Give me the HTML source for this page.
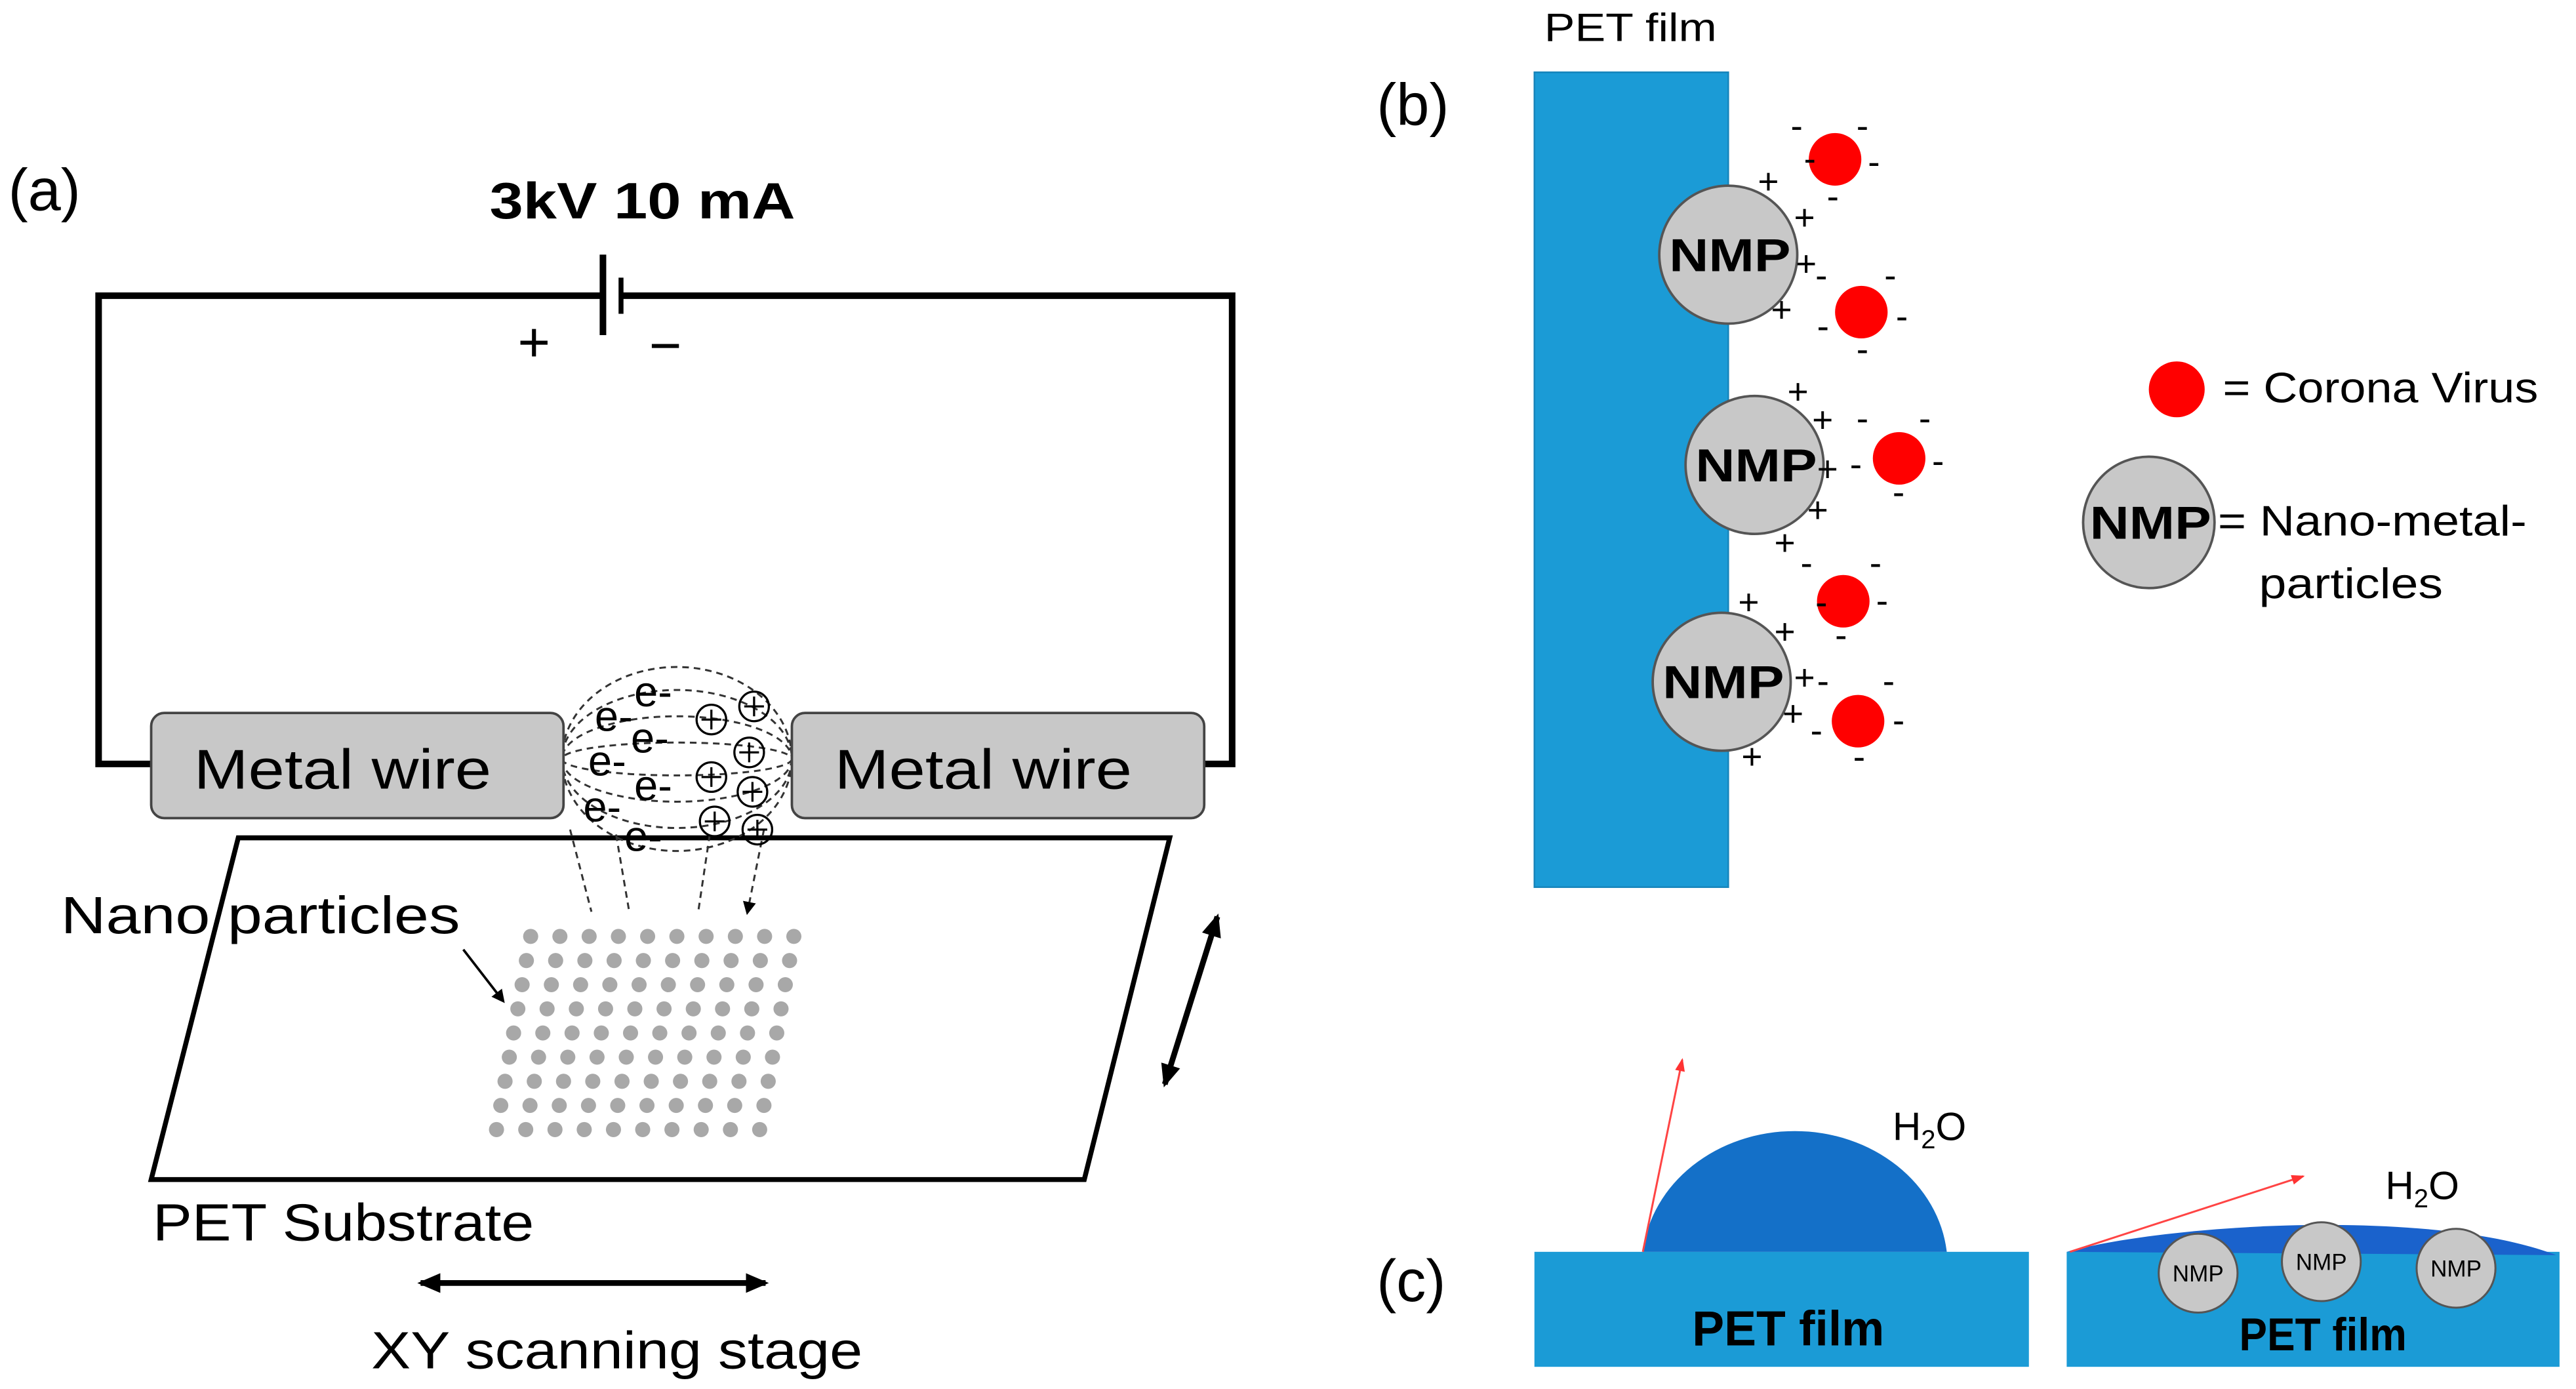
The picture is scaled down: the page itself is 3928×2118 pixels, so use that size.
<!DOCTYPE html>
<html><head><style>html,body{margin:0;padding:0;background:#fff}svg{display:block}text{font-family:"Liberation Sans",sans-serif}</style></head>
<body>
<svg width="3928" height="2118" viewBox="0 0 1568 845.5" xmlns="http://www.w3.org/2000/svg">
<defs>
<marker id="ah" markerWidth="8" markerHeight="8" refX="6" refY="4" orient="auto" markerUnits="userSpaceOnUse"><path d="M0,0 L8,4 L0,8 z" fill="#000"/></marker>
<marker id="ahb" markerWidth="14" markerHeight="12" refX="12" refY="6" orient="auto-start-reverse" markerUnits="userSpaceOnUse"><path d="M0,0 L14,6 L0,12 z" fill="#000"/></marker>
<marker id="ahr" markerWidth="8" markerHeight="6" refX="7" refY="3" orient="auto" markerUnits="userSpaceOnUse"><path d="M0,0 L8,3 L0,6 z" fill="#f33"/></marker>
</defs>
<!-- (a) -->
<text x="5" y="128" font-size="36">(a)</text>
<text x="298" y="133" font-size="31" font-weight="bold" textLength="186" lengthAdjust="spacingAndGlyphs">3kV 10 mA</text>
<path d="M92,465 H60 V180 H367 M377,180 H750 V465 H733" fill="none" stroke="#000" stroke-width="4"/>
<line x1="367" y1="155" x2="367" y2="204" stroke="#000" stroke-width="4"/>
<line x1="378" y1="169" x2="378" y2="191" stroke="#000" stroke-width="3"/>
<text x="325" y="220" font-size="34" text-anchor="middle">+</text>
<text x="405" y="222" font-size="34" text-anchor="middle">−</text>
<path d="M145,510 H712 L660,718 H92 Z" fill="none" stroke="#000" stroke-width="3"/>
<g fill="none" stroke="#333" stroke-width="1.2" stroke-dasharray="4,3">
<ellipse cx="412" cy="462" rx="70" ry="56"/>
<ellipse cx="412" cy="462" rx="70" ry="42"/>
<ellipse cx="412" cy="462" rx="70" ry="26"/>
<ellipse cx="412" cy="462" rx="70" ry="10"/>
<path d="M347,505 L360,555 M375,508 L383,555 M432,508 L425,555 M465,505 L455,555" marker-end="url(#ah)"/>
</g>
<rect x="92" y="434" width="251" height="64" rx="8" fill="#c8c8c8" stroke="#444" stroke-width="1.5"/>
<rect x="482" y="434" width="251" height="64" rx="8" fill="#c8c8c8" stroke="#444" stroke-width="1.5"/>
<text x="118" y="480" font-size="34" textLength="181" lengthAdjust="spacingAndGlyphs">Metal wire</text>
<text x="508" y="480" font-size="34" textLength="181" lengthAdjust="spacingAndGlyphs">Metal wire</text>
<g font-size="26">
<text x="362" y="445">e-</text><text x="386" y="430">e-</text><text x="384" y="458">e-</text>
<text x="358" y="472">e-</text><text x="386" y="487">e-</text><text x="355" y="500">e-</text><text x="380" y="518">e-</text>
</g>
<g fill="none" stroke="#000" stroke-width="1.3">
<circle cx="433" cy="438" r="9"/><circle cx="459" cy="430" r="9"/><circle cx="456" cy="458" r="9"/><circle cx="433" cy="473" r="9"/><circle cx="458" cy="482" r="9"/><circle cx="435" cy="500" r="9"/><circle cx="461" cy="505" r="9"/>
<path d="M433,432v12M427,438h12M459,424v12M453,430h12M456,452v12M450,458h12M433,467v12M427,473h12M458,476v12M452,482h12M435,494v12M429,500h12M461,499v12M455,505h12"/>
</g>
<text x="37" y="568" font-size="32" textLength="243" lengthAdjust="spacingAndGlyphs">Nano particles</text>
<line x1="282" y1="578" x2="306" y2="609" stroke="#000" stroke-width="1.5" marker-end="url(#ah)"/>
<g fill="#a8a8a8" id="dots"></g>
<line x1="741" y1="558" x2="709" y2="660" stroke="#000" stroke-width="3.5" marker-start="url(#ahb)" marker-end="url(#ahb)"/>
<line x1="256" y1="781" x2="466" y2="781" stroke="#000" stroke-width="3.5" marker-start="url(#ahb)" marker-end="url(#ahb)"/>
<text x="93" y="755" font-size="32" textLength="232" lengthAdjust="spacingAndGlyphs">PET Substrate</text>
<text x="226" y="833" font-size="32" textLength="299" lengthAdjust="spacingAndGlyphs">XY scanning stage</text>
<!-- (b) -->
<text x="838" y="76" font-size="36">(b)</text>
<text x="940" y="25" font-size="24" textLength="105" lengthAdjust="spacingAndGlyphs">PET film</text>
<rect x="934" y="44" width="118" height="496" fill="#1b9bd6" stroke="#1785bb"/>
<g fill="#c8c8c8" stroke="#555" stroke-width="1.5">
<circle cx="1052" cy="155" r="42"/><circle cx="1068" cy="283" r="42"/><circle cx="1048" cy="415" r="42"/>
<circle cx="1308" cy="318" r="40"/>
</g>
<g font-size="28" font-weight="bold">
<text x="1016" y="165" textLength="74" lengthAdjust="spacingAndGlyphs">NMP</text><text x="1032" y="293" textLength="74" lengthAdjust="spacingAndGlyphs">NMP</text><text x="1012" y="425" textLength="74" lengthAdjust="spacingAndGlyphs">NMP</text><text x="1272" y="328" textLength="74" lengthAdjust="spacingAndGlyphs">NMP</text>
</g>
<g fill="#f00">
<circle cx="1117" cy="97" r="16"/><circle cx="1133" cy="190" r="16"/><circle cx="1156" cy="279" r="16"/><circle cx="1122" cy="366" r="16"/><circle cx="1131" cy="439" r="16"/><circle cx="1325" cy="237" r="17"/>
</g>
<g font-size="22">
<text x="1070" y="118">+</text><text x="1092" y="140">+</text><text x="1093" y="168">+</text><text x="1078" y="196">+</text>
<text x="1088" y="246">+</text><text x="1103" y="263">+</text><text x="1106" y="293">+</text><text x="1100" y="318">+</text><text x="1080" y="338">+</text>
<text x="1058" y="374">+</text><text x="1080" y="392">+</text><text x="1092" y="420">+</text><text x="1085" y="442">+</text><text x="1060" y="468">+</text>
</g>
<g font-size="22">
<text x="1090" y="84">-</text><text x="1130" y="84">-</text><text x="1137" y="106">-</text><text x="1098" y="104">-</text><text x="1112" y="127">-</text>
<text x="1105" y="175">-</text><text x="1147" y="175">-</text><text x="1154" y="200">-</text><text x="1106" y="206">-</text><text x="1130" y="220">-</text>
<text x="1130" y="262">-</text><text x="1168" y="262">-</text><text x="1176" y="288">-</text><text x="1126" y="290">-</text><text x="1152" y="307">-</text>
<text x="1096" y="350">-</text><text x="1138" y="350">-</text><text x="1142" y="373">-</text><text x="1105" y="374">-</text><text x="1117" y="394">-</text>
<text x="1106" y="422">-</text><text x="1146" y="422">-</text><text x="1152" y="446">-</text><text x="1102" y="452">-</text><text x="1128" y="468">-</text>
</g>
<text x="1353" y="245" font-size="26" textLength="192" lengthAdjust="spacingAndGlyphs">= Corona Virus</text>
<text x="1350" y="326" font-size="26" textLength="188" lengthAdjust="spacingAndGlyphs">= Nano-metal-</text>
<text x="1375" y="364" font-size="26" textLength="112" lengthAdjust="spacingAndGlyphs">particles</text>
<!-- (c) -->
<text x="838" y="792" font-size="36">(c)</text>
<rect x="934" y="762" width="301" height="70" fill="#1b9bd6"/>
<path d="M1000,762 A93,82 0 0 1 1185,762 Z" fill="#1470c8"/>
<line x1="1000" y1="762" x2="1024" y2="645" stroke="#f44" stroke-width="1.2" marker-end="url(#ahr)"/>
<text x="1152" y="694" font-size="24">H<tspan font-size="16" dy="5">2</tspan><tspan dy="-5">O</tspan></text>
<text x="1030" y="819" font-size="30" font-weight="bold" textLength="117" lengthAdjust="spacingAndGlyphs">PET film</text>
<rect x="1258" y="762" width="300" height="70" fill="#1b9bd6"/>
<path d="M1258,762 C1320,745 1480,735 1556,764 Z" fill="#1a62cc"/>
<line x1="1260" y1="762" x2="1402" y2="716" stroke="#f44" stroke-width="1.2" marker-end="url(#ahr)"/>
<text x="1452" y="730" font-size="24">H<tspan font-size="16" dy="5">2</tspan><tspan dy="-5">O</tspan></text>
<g fill="#c8c8c8" stroke="#555" stroke-width="1.2"><circle cx="1338" cy="775" r="24"/><circle cx="1413" cy="768" r="24"/><circle cx="1495" cy="772" r="24"/></g>
<g font-size="14" text-anchor="middle"><text x="1338" y="780">NMP</text><text x="1413" y="773">NMP</text><text x="1495" y="777">NMP</text></g>
<text x="1363" y="822" font-size="28" font-weight="bold" textLength="102" lengthAdjust="spacingAndGlyphs">PET film</text>
</svg>
<script>
var g=document.getElementById('dots'),s='';
for(var r=0;r<9;r++){var y=570+r*14.7,x0=323-r*2.6;for(var c=0;c<10;c++){s+='<circle cx="'+(x0+c*17.8)+'" cy="'+y+'" r="4.6"/>';}}
g.innerHTML=s;
</script>
</body></html>
